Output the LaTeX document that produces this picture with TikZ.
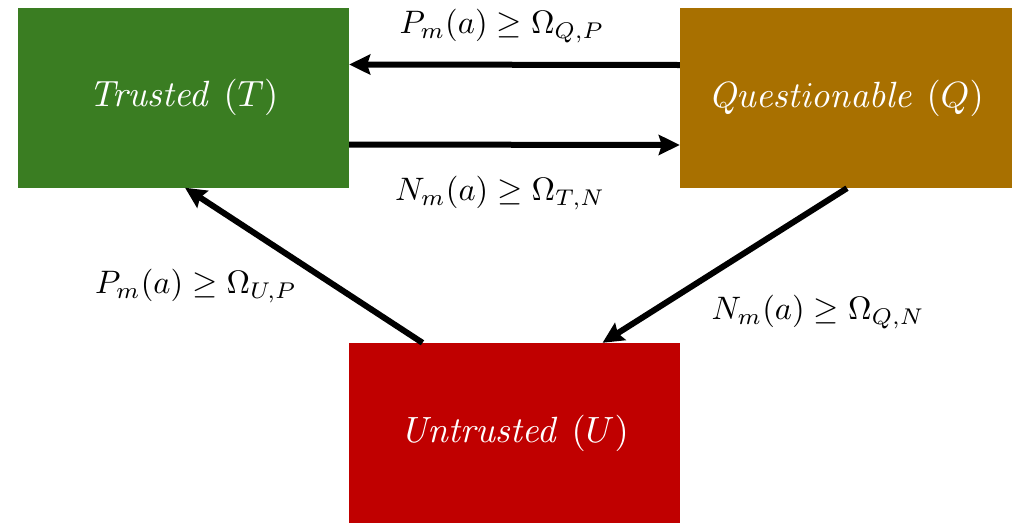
\documentclass[tikz,border=0pt]{standalone}
\usepackage{graphicx}
\usetikzlibrary{arrows.meta}
\definecolor{tgreen}{HTML}{3A7D22}
\definecolor{qbrown}{HTML}{A87000}
\definecolor{ured}{HTML}{C00000}
\newcommand{\boxtxt}[1]{\scalebox{3.65}{#1}}
\newcommand{\lbltxt}[1]{\scalebox{3.25}{#1}}
\begin{document}
\begin{tikzpicture}[x=1pt,y=-1pt,
  state/.style={rectangle,inner sep=0pt,minimum width=331pt,minimum height=180pt,text=white},
  conn/.style={line width=6pt,-{Stealth[length=21pt,width=20pt,inset=3pt]}},
  lbl/.style={inner sep=0pt}]
\useasboundingbox[fill=white] (0,0) rectangle (1025,528);
\node[state,fill=tgreen] (T) at (183.5,97.5) {\boxtxt{$\mathit{Trusted}\ (T)$}};
\node[state,fill=qbrown,minimum width=332pt] (Q) at (846,98) {\boxtxt{$\mathit{Questionable}\ (Q)$}};
\node[state,fill=ured] (U) at (514.5,433) {\boxtxt{$\mathit{Untrusted}\ (U)$}};
\draw[conn] ([yshift=33pt]Q.west) -- ([yshift=33pt]T.east);
\draw[conn] ([yshift=-47pt]T.east) -- ([yshift=-47pt]Q.west);
\draw[conn] ([xshift=1pt]Q.south) -- ([xshift=88pt]U.north);
\draw[conn] ([xshift=-92pt]U.north) -- ([xshift=1.5pt]T.south);
\node[lbl] (l1) at (502,26) {\lbltxt{$P_m(a) \geq \Omega_{Q,P}$}};
\node[lbl] (l2) at (500,193) {\lbltxt{$N_m(a) \geq \Omega_{T,N}$}};
\node[lbl] (l3) at (196,286) {\lbltxt{$P_m(a) \geq \Omega_{U,P}$}};
\node[lbl] (l4) at (818,312) {\lbltxt{$N_m(a) \geq \Omega_{Q,N}$}};
\end{tikzpicture}
\end{document}
